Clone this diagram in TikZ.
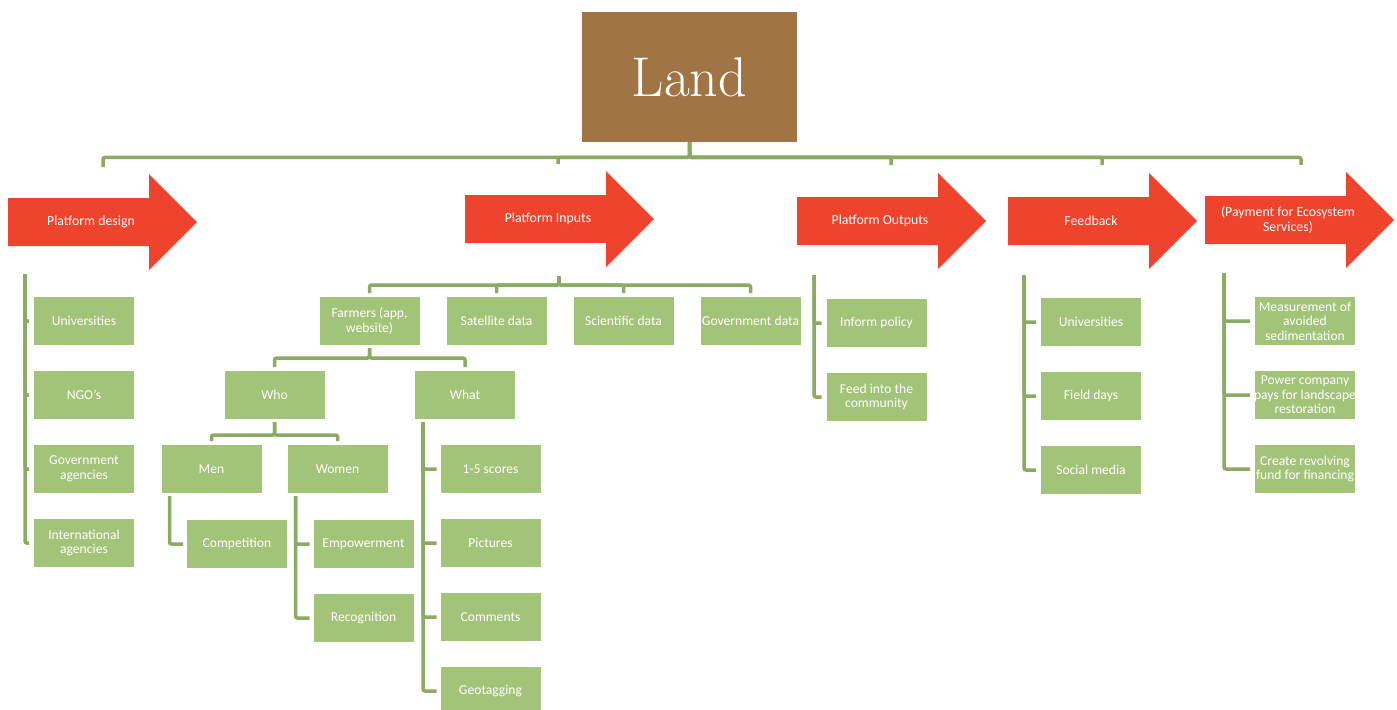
\documentclass[tikz,border=0pt]{standalone}
\usepackage{fontspec}
\newfontfamily\boxfont{Carlito}
\usetikzlibrary{positioning}

\definecolor{landbrown}{RGB}{160,116,69}
\definecolor{arrowred}{RGB}{238,67,45}
\definecolor{leaf}{RGB}{162,196,120}
\definecolor{stemgreen}{RGB}{139,171,98}

% block arrow: name, left x, middle y, label
\newcommand{\stagearrow}[4]{%
  \fill[arrowred] (#2,{#3-24}) -- ({#2+141},{#3-24}) -- ({#2+141},{#3-48}) -- ({#2+189},#3)
    -- ({#2+141},{#3+48}) -- ({#2+141},{#3+24}) -- (#2,{#3+24}) -- cycle;
  \node[stagetext] (#1) at ({#2+83},#3) {#4};
}
% a line that may run over the edge of its box
\newcommand{\spillline}[1]{\makebox[0pt]{#1}}

\begin{document}
\begin{tikzpicture}[
  x=0.5pt, y=-0.5pt,
  node distance=13pt and 13.5pt,
  land/.style={fill=landbrown, text=white, minimum width=107.5pt, minimum height=65pt, font=\fontsize{28}{30}\selectfont},
  stagetext/.style={text=white, align=center, font=\boxfont\fontsize{6.9}{7.6}\selectfont},
  item/.style={fill=leaf, text=white, minimum width=50pt, minimum height=24pt, inner xsep=0pt, inner ysep=1pt, outer sep=0pt, align=center, font=\boxfont\fontsize{6.8}{7.3}\selectfont},
  link/.style={draw=stemgreen, line width=1.75pt, rounded corners=1pt},
  tree/.style={link, shorten <=1.5pt, shorten >=2pt},
  tick/.style={link, shorten >=2.5pt}
]
\useasboundingbox (0,0) rectangle (1397,709);

\node[land] (land) at (689.5,77) {Land};

\stagearrow{design}{8}{222}{Platform design}
\stagearrow{inputs}{465}{219}{Platform Inputs}
\stagearrow{outputs}{797}{221}{Platform Outputs}
\stagearrow{feedback}{1008}{221}{Feedback}
\stagearrow{pes}{1205}{220}{(Payment for Ecosystem\\ Services)}

% ends of the bus above and below the arrows
\coordinate (design-top) at (103,167);
\coordinate (inputs-top) at (558,164);
\coordinate (outputs-top) at (891,165);
\coordinate (feedback-top) at (1102,165);
\coordinate (pes-top) at (1301,165);
\coordinate (design-bot) at (25,274);
\coordinate (inputs-bot) at (559,273);
\coordinate (outputs-bot) at (814,275);
\coordinate (feedback-bot) at (1024,275);
\coordinate (pes-bot) at (1224,273);

\foreach \s in {design,inputs,outputs,feedback,pes}
  \draw[link] (land.south) -- ++(0,15) -| (\s-top);

% Platform design
\node[item] (uni) at (84,321) {Universities};
\node[item, below=of uni] (ngo) {NGO’s};
\node[item, below=of ngo] (gov) {Government\\ agencies};
\node[item, below=of gov] (intl) {International\\ agencies};
\foreach \c in {uni,ngo,gov,intl}
  \draw[tick] (design-bot) |- (\c);

% Platform inputs
\node[item] (farmers) at (369.5,321) {Farmers (app,\\ website)};
\node[item, right=of farmers] (satellite) {Satellite data};
\node[item, right=of satellite] (scientific) {Scientific data};
\node[item, right=of scientific] (govdata) {\spillline{Government data}};
\foreach \c in {farmers,satellite,scientific,govdata}
  \draw[tree] (inputs-bot) -- ++(0,12) -| (\c);

\node[item] (who) at (274.5,395) {Who};
\node[item] (what) at (465,395) {What};
\foreach \c in {who,what}
  \draw[tree] (farmers.south) -- ++(0,13) -| (\c);

\node[item] (men) at (211.5,469) {Men};
\node[item, right=13pt of men] (women) {Women};
\foreach \c in {men,women}
  \draw[tree] (who.south) -- ++(0,16) -| (\c);

\node[item] (competition) at (237,544) {Competition};
\draw[tree] ([xshift=4pt]men.south west) |- (competition);

\node[item] (empowerment) at (363.5,544) {Empowerment};
\node[item, below=of empowerment] (recognition) {Recognition};
\foreach \c in {empowerment,recognition}
  \draw[tree] ([xshift=4pt]women.south west) |- (\c);

\node[item] (scores) at (490.5,469) {1-5 scores};
\node[item, below=of scores] (pictures) {Pictures};
\node[item, below=of pictures] (comments) {Comments};
\node[item, below=of comments] (geotag) {Geotagging};
\foreach \c in {scores,pictures,comments,geotag}
  \draw[tree] ([xshift=4pt]what.south west) |- (\c);

% Platform outputs
\node[item] (policy) at (876.5,323) {Inform policy};
\node[item, below=of policy] (community) {Feed into the\\ community};
\foreach \c in {policy,community}
  \draw[tick] (outputs-bot) |- (\c);

% Feedback
\node[item] (fbuni) at (1091,322) {Universities};
\node[item, below=of fbuni] (fielddays) {Field days};
\node[item, below=of fielddays] (social) {Social media};
\foreach \c in {fbuni,fielddays,social}
  \draw[tick] (feedback-bot) |- (\c);

% Payment for ecosystem services
\node[item] (measure) at (1305,321) {Measurement of\\ avoided\\ sedimentation};
\node[item, below=of measure] (power) {Power company\\ \spillline{pays for landscape}\\ restoration};
\node[item, below=of power] (fund) {\spillline{Create revolving}\\ \spillline{fund for financing}};
\foreach \c in {measure,power,fund}
  \draw[tick] (pes-bot) |- (\c);
\end{tikzpicture}
\end{document}
